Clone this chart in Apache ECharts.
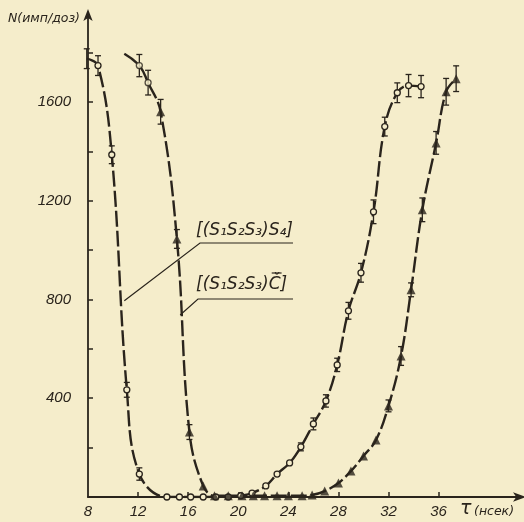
<!DOCTYPE html>
<html><head><meta charset="utf-8">
<script src="https://cdn.jsdelivr.net/npm/echarts@6/dist/echarts.min.js"></script>
<style>html,body{margin:0;padding:0;background:#f5edcb}#c{width:524px;height:522px}</style>
</head><body><div id="c"></div>
<script>
// Series 1: (S1S2S3)S4 — open circles
const s1X   = [7.9, 8.8, 9.9, 11.1, 12.1, 14.3, 15.3, 16.2, 17.2, 18.2, 19.2, 20.2, 21.1, 22.2, 23.1, 24.1, 25.0, 26.0, 27.0, 27.9, 28.8, 29.8, 30.8, 31.7, 32.7, 33.6, 34.6];
const s1Y   = [1775, 1747, 1386, 434, 93, 0, 0, 0, 0, 0, 0, 5, 16, 45, 93, 138, 203, 296, 389, 535, 754, 908, 1155, 1500, 1637, 1666, 1662];
const s1Err = [40, 40, 36, 30, 25, 0, 0, 0, 0, 0, 0, 0, 0, 0, 0, 0, 16, 24, 25, 27, 34, 38, 48, 38, 40, 45, 45];
// Series 2: (S1S2S3)C — filled triangles (first two points drawn as circles)
const s2X   = [12.1, 12.8, 13.8, 15.1, 16.1, 17.2, 18.1, 19.2, 20.3, 21.2, 22.1, 23.1, 24.0, 25.1, 25.9, 26.9, 28.0, 29.0, 30.0, 31.0, 32.0, 33.0, 33.8, 34.7, 35.8, 36.6, 37.4];
const s2Y   = [1747, 1678, 1560, 1045, 263, 45, 5, 5, 5, 5, 5, 5, 5, 5, 8, 24, 57, 105, 166, 231, 369, 571, 839, 1163, 1434, 1641, 1694];
const s2Err = [45, 50, 50, 38, 30, 0, 0, 0, 0, 0, 0, 0, 0, 0, 0, 0, 0, 0, 0, 0, 24, 38, 28, 48, 46, 54, 52];
const s2Sym = ['circle', 'circle'];
// fitted-curve start for series 2
const fit2Head = [[10.9, 1795]];
// axes
const xLabelVals = [8, 12, 16, 20, 24, 28, 32, 36];
const xTickVals  = [12, 16, 20, 24, 28, 32, 36];
const yLabelVals = [400, 800, 1200, 1600];
const yTickVals  = [200, 400, 600, 800, 1000, 1200, 1400, 1600, 1800];
const label1 = '[(S₁S₂S₃)S₄]';
const label2a = '[(S₁S₂S₃)';
const label2b = 'Č';
const label2c = ']';
const yName = 'N(имп/доз)';
const xNameSym = 'τ';
const xNameUnit = '(нсек)';

const ink = '#2a241c';
const bg = '#f5edcb';
const fontFam = 'Liberation Sans, DejaVu Sans, sans-serif';
const lblFont = 'italic 17px "DejaVu Sans"';

const pts = (xs, ys) => xs.map((x, i) => [x, ys[i]]);
const errs = (xs, ys, es) => xs.map((x, i) => [x, ys[i], es[i]]).filter(d => d[2] > 0);

function errRender(params, api) {
  const x = api.value(0), y = api.value(1), e = api.value(2);
  const lo = api.coord([x, y - e]), hi = api.coord([x, y + e]);
  const w = 3;
  const st = { stroke: ink, lineWidth: 1.3 };
  return { type: 'group', children: [
    { type: 'line', shape: { x1: lo[0], y1: lo[1], x2: hi[0], y2: hi[1] }, style: st },
    { type: 'line', shape: { x1: lo[0] - w, y1: lo[1], x2: lo[0] + w, y2: lo[1] }, style: st },
    { type: 'line', shape: { x1: hi[0] - w, y1: hi[1], x2: hi[0] + w, y2: hi[1] }, style: st }
  ]};
}

const chart = echarts.init(document.getElementById('c'), null, { renderer: 'canvas' });
const lineStyle = { color: ink, width: 2.4, type: [16, 4] };
chart.setOption({
  backgroundColor: bg,
  animation: false,
  grid: { left: 88, right: 4, top: 13, bottom: 25 },
  xAxis: {
    type: 'value', min: 8, max: 42.5,
    axisLine: { lineStyle: { color: ink, width: 1.8 }, symbol: ['none', 'arrow'], symbolSize: [7, 13], symbolOffset: [0, 6] },
    axisTick: { inside: true, length: 5, lineStyle: { color: ink, width: 1.5 }, customValues: xTickVals },
    axisLabel: { customValues: xLabelVals, formatter: v => String(v), color: ink, fontStyle: 'italic', fontSize: 15, fontFamily: fontFam, margin: 7 },
    splitLine: { show: false }
  },
  yAxis: {
    type: 'value', min: 0, max: 1960,
    axisLine: { lineStyle: { color: ink, width: 1.8 }, symbol: ['none', 'arrow'], symbolSize: [7, 12], symbolOffset: [0, 4] },
    axisTick: { inside: true, length: 5, lineStyle: { color: ink, width: 1.5 }, customValues: yTickVals },
    axisLabel: { customValues: yLabelVals, formatter: v => String(v), color: ink, fontStyle: 'italic', fontSize: 15, fontFamily: fontFam, margin: 17 },
    splitLine: { show: false }
  },
  series: [
    { type: 'line', data: pts(s1X, s1Y), smooth: 0.4, showSymbol: false, lineStyle, z: 2 },
    { type: 'line', data: fit2Head.concat(pts(s2X, s2Y)), smooth: 0.4, showSymbol: false, lineStyle, z: 2 },
    { type: 'custom', renderItem: errRender, data: errs(s1X, s1Y, s1Err), z: 3 },
    { type: 'custom', renderItem: errRender, data: errs(s2X, s2Y, s2Err), z: 3 },
    { type: 'scatter', data: pts(s1X, s1Y), symbol: 'circle', symbolSize: 6,
      itemStyle: { color: bg, borderColor: ink, borderWidth: 1.3, opacity: 1 }, z: 4 },
    { type: 'scatter', z: 4,
      data: pts(s2X, s2Y).map((p, i) => {
        const sym = s2Sym[i] || 'triangle';
        return sym === 'circle'
          ? { value: p, symbol: 'circle', symbolSize: 6, itemStyle: { color: bg, borderColor: ink, borderWidth: 1.3 } }
          : { value: p, symbol: 'triangle', symbolSize: 9, itemStyle: { color: ink } };
      }) }
  ]
});

// measure label pieces for the bar above Č
const mctx = document.createElement('canvas').getContext('2d');
mctx.font = lblFont;
const wA = mctx.measureText(label2a).width;
const wB = mctx.measureText(label2b).width;
const l2x = 196, l2y = 276;

const a1 = chart.convertToPixel({ gridIndex: 0 }, [10.9, 795]);
const a2 = chart.convertToPixel({ gridIndex: 0 }, [15.36, 737]);
const txt = { fill: ink, fontStyle: 'italic', fontFamily: 'DejaVu Sans, sans-serif' };
chart.setOption({
  graphic: [
    { type: 'text', left: 196, top: 222, style: Object.assign({ text: label1, fontSize: 17 }, txt) },
    { type: 'polyline', shape: { points: [a1, [200, 243], [293, 243]] }, style: { stroke: ink, lineWidth: 1.2, fill: null } },
    { type: 'text', x: l2x, y: l2y, style: Object.assign({ text: label2a + label2b + label2c, fontSize: 17 }, txt) },
    { type: 'line', shape: { x1: l2x + wA + 3, y1: l2y - 3, x2: l2x + wA + wB + 1, y2: l2y - 3 }, style: { stroke: ink, lineWidth: 1.2 } },
    { type: 'polyline', shape: { points: [a2, [198, 299], [293, 299]] }, style: { stroke: ink, lineWidth: 1.2, fill: null } },
    { type: 'text', right: 444, top: 12, style: Object.assign({ text: yName, fontSize: 12.5 }, txt) },
    { type: 'text', left: 460, top: 500, style: Object.assign({ text: xNameSym, fontSize: 19 }, txt) },
    { type: 'text', left: 474, top: 505, style: Object.assign({ text: xNameUnit, fontSize: 12.5 }, txt) }
  ]
});
</script></body></html>
